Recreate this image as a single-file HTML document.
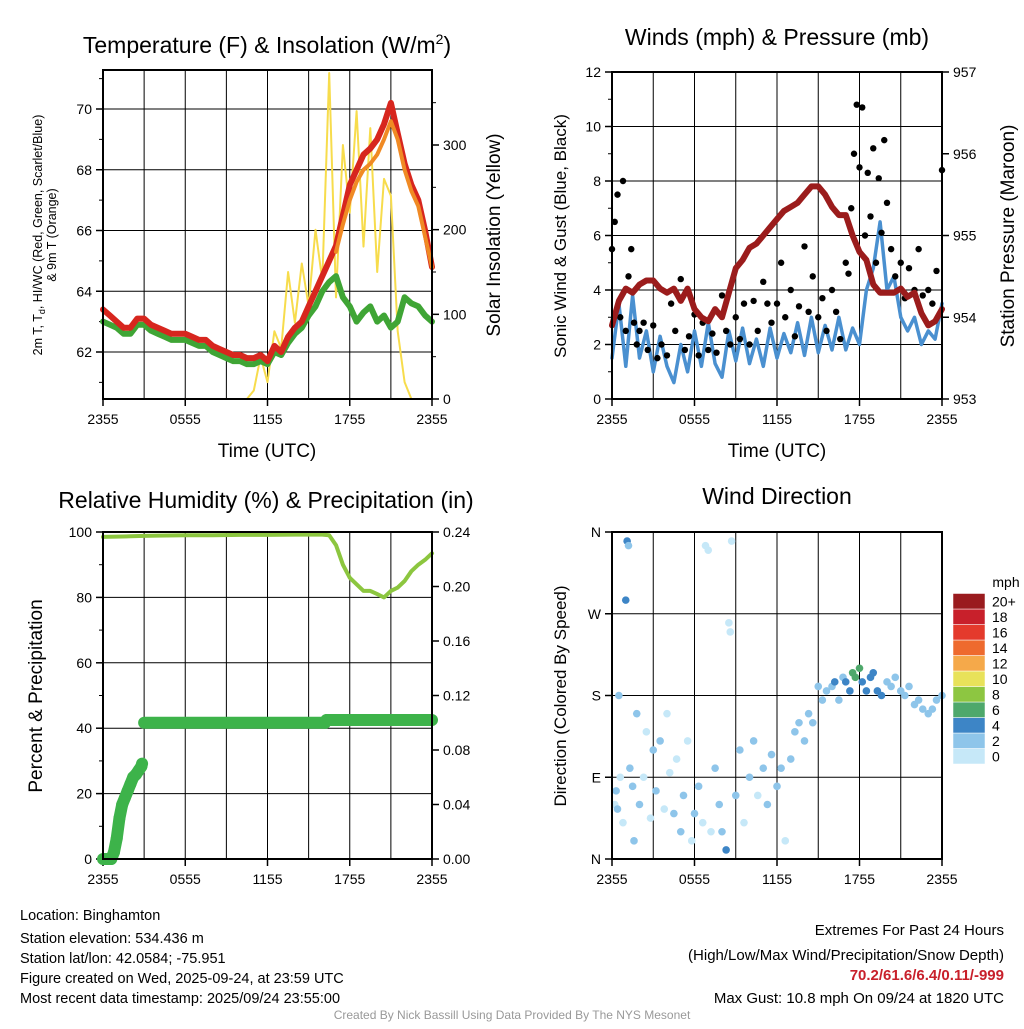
<!DOCTYPE html>
<html><head><meta charset="utf-8"><style>
body{margin:0;background:#fff;font-family:"Liberation Sans",sans-serif}
svg text{font-family:"Liberation Sans",sans-serif}
</style></head><body>
<svg id="s" width="1024" height="1024" xmlns="http://www.w3.org/2000/svg">
<g id="g"></g>
<text x="267" y="53" font-size="23" text-anchor="middle">Temperature (F) &amp; Insolation (W/m<tspan font-size="14" dy="-9">2</tspan><tspan dy="9">)</tspan></text>
<text x="777" y="45" font-size="23" text-anchor="middle">Winds (mph) &amp; Pressure (mb)</text>
<text x="266" y="508" font-size="23" text-anchor="middle">Relative Humidity (%) &amp; Precipitation (in)</text>
<text x="777" y="504" font-size="23" text-anchor="middle">Wind Direction</text>
<text x="267" y="457" font-size="19" text-anchor="middle">Time (UTC)</text>
<text x="777" y="457" font-size="19" text-anchor="middle">Time (UTC)</text>
<text transform="translate(42,235) rotate(-90)" font-size="12.5" text-anchor="middle">2m T, T<tspan font-size="9" dy="3">d</tspan><tspan dy="-3">, HI/WC (Red, Green, Scarlet/Blue)</tspan></text>
<text transform="translate(56,235) rotate(-90)" font-size="12.5" text-anchor="middle">&amp; 9m T (Orange)</text>
<text transform="translate(500,235) rotate(-90)" font-size="19" text-anchor="middle">Solar Insolation (Yellow)</text>
<text transform="translate(566,236) rotate(-90)" font-size="17" text-anchor="middle">Sonic Wind &amp; Gust (Blue, Black)</text>
<text transform="translate(1014,236) rotate(-90)" font-size="19" text-anchor="middle">Station Pressure (Maroon)</text>
<text transform="translate(42,696) rotate(-90)" font-size="19" text-anchor="middle">Percent &amp; Precipitation</text>
<text transform="translate(566,696) rotate(-90)" font-size="17" text-anchor="middle">Direction (Colored By Speed)</text>
<text x="1006" y="587" font-size="14" text-anchor="middle">mph</text>
<g font-size="14.5">
<text x="20" y="920">Location: Binghamton</text>
<text x="20" y="943">Station elevation: 534.436 m</text>
<text x="20" y="963">Station lat/lon: 42.0584; -75.951</text>
<text x="20" y="983">Figure created on Wed, 2025-09-24, at 23:59 UTC</text>
<text x="20" y="1003">Most recent data timestamp: 2025/09/24 23:55:00</text>
</g>
<g font-size="15" text-anchor="end">
<text x="1004" y="935">Extremes For Past 24 Hours</text>
<text x="1004" y="960">(High/Low/Max Wind/Precipitation/Snow Depth)</text>
<text x="1004" y="980" fill="#c8202b" font-weight="bold">70.2/61.6/6.4/0.11/-999</text>
<text x="1004" y="1003">Max Gust: 10.8 mph On 09/24 at 1820 UTC</text>
</g>
<text x="512" y="1019" font-size="12" fill="#999" text-anchor="middle">Created By Nick Bassill Using Data Provided By The NYS Mesonet</text>
</svg>
<script>
const xTicks=["2355","0555","1155","1755","2355"];
const tHours=[0,0.5,1,1.5,2,2.5,3,3.5,4,4.5,5,5.5,6,6.5,7,7.5,8,8.5,9,9.5,10,10.5,11,11.5,12,12.5,13,13.5,14,14.5,15,15.5,16,16.5,17,17.5,18,18.5,19,19.5,20,20.5,21,21.5,22,22.5,23,23.5,24];
const tempF=[63.4,63.2,63.0,62.8,62.8,63.1,63.1,62.9,62.8,62.7,62.6,62.6,62.6,62.5,62.4,62.4,62.2,62.1,62.0,61.9,61.9,61.8,61.8,61.9,61.7,62.2,62.0,62.5,62.8,63.0,63.5,64.0,64.5,65.0,65.5,66.5,67.5,68.0,68.5,68.7,69.0,69.5,70.2,69.2,68.2,67.5,67.0,66.0,64.8];
const dewF=[63.0,62.9,62.8,62.6,62.6,62.9,62.9,62.7,62.6,62.5,62.4,62.4,62.4,62.3,62.2,62.2,62.0,61.9,61.8,61.7,61.7,61.6,61.6,61.7,61.6,62.0,61.9,62.3,62.6,62.8,63.2,63.5,64.0,64.3,64.5,63.8,63.5,63.0,63.3,63.5,63.0,63.2,62.8,63.0,63.8,63.6,63.5,63.2,63.0];
const t9Hours=[17,17.5,18,18.5,19,19.5,20,20.5,21,21.5,22,22.5,23,23.5,24];
const temp9F=[65.3,66.2,67.0,67.6,68.0,68.2,68.5,69.0,69.6,69.0,68.0,67.3,66.8,65.8,64.8];
const solar=[0,0,0,0,0,0,0,0,0,0,0,0,0,0,0,0,0,0,0,0,0,0,10,50,20,80,60,150,90,160,110,200,140,385,120,300,220,340,180,320,150,260,240,80,20,0,0,0,0];
const windMph=[1.5,3.5,1.2,3.8,1.5,2.5,1.0,2.3,1.2,0.6,2.0,1.0,2.5,1.2,2.8,1.3,0.8,2.5,1.4,2.6,1.3,2.2,1.2,2.6,1.5,2.4,1.7,2.8,1.6,3.0,1.7,2.7,1.8,3.0,1.8,2.6,2.0,4.0,4.8,6.5,4.0,4.5,3.0,2.5,3.0,2.0,2.5,2.2,3.5];
const pressMb=[953.9,954.2,954.35,954.3,954.4,954.45,954.45,954.35,954.3,954.35,954.2,954.35,954.1,954.0,953.95,954.1,954.0,954.3,954.6,954.7,954.85,954.9,955.0,955.1,955.2,955.3,955.35,955.4,955.5,955.6,955.6,955.5,955.35,955.25,955.25,955.0,954.8,954.7,954.4,954.3,954.3,954.3,954.35,954.25,954.3,954.05,953.9,953.95,954.1];
const gustH=[0,0.2,0.4,0.6,0.8,1,1.2,1.4,1.6,1.8,2,2.3,2.6,3,3.3,3.6,4,4.3,4.6,5,5.3,5.6,6,6.3,6.6,7,7.3,7.6,8,8.3,8.6,9,9.3,9.6,10,10.3,10.6,11,11.3,11.6,12,12.3,12.6,13,13.3,13.6,14,14.3,14.6,15,15.3,15.6,16,16.3,16.6,17,17.2,17.4,17.6,17.8,18,18.2,18.4,18.6,18.8,19,19.2,19.4,19.6,19.8,20,20.3,20.6,21,21.3,21.6,22,22.3,22.6,23,23.3,23.6,24];
const gustMph=[5.5,6.5,7.5,3,8,2.5,4.5,5.5,2.8,2.0,2.5,2.8,1.8,2.7,1.5,2.0,1.6,3.5,2.5,4.4,1.8,2.3,3.1,1.6,2.8,1.8,2.4,1.7,3.8,2.5,2.0,3.0,2.2,3.5,2.0,3.6,2.5,4.3,3.5,2.8,3.5,5.0,3.0,4.0,2.3,3.4,5.6,3.2,4.5,3.0,3.7,2.5,4.0,3.2,2.2,5.0,4.6,7.0,9.0,10.8,8.5,10.7,6.0,8.3,6.7,9.2,5.0,8.1,6.1,9.5,7.2,5.5,4.5,5.0,3.7,4.8,4.0,5.5,3.8,4.0,3.5,4.7,8.4];
const rhHours=[0,1,2,3,4,6,8,10,12,14,16,16.5,17,17.5,18,18.5,19,19.5,20,20.5,21,21.5,22,22.5,23,23.5,24];
const rhPct=[98.5,98.6,98.7,98.8,98.9,99,99,99.1,99.1,99.2,99.2,99,96,90,86,84,82,82,81,80,82,83,85,88,90,91.5,93.5];
const precipHours=[0,0.6,0.8,1.0,1.2,1.4,1.6,1.8,2.0,2.2,2.4,2.6,2.8,2.85,3.0,16.2,16.3,24];
const precipIn=[0,0,0.005,0.015,0.03,0.04,0.045,0.05,0.055,0.06,0.062,0.065,0.068,0.07,0.1,0.1,0.102,0.102];
const dirH=[0.2,0.3,0.4,0.5,0.6,0.8,1.0,1.1,1.2,1.3,1.5,1.6,1.8,2,2.3,2.5,2.8,3,3.2,3.5,3.8,4,4.2,4.5,4.7,5,5.2,5.5,5.8,6,6.3,6.6,6.8,7,7.2,7.5,7.8,8,8.3,8.5,8.6,8.7,9,9.3,9.6,10,10.3,10.6,11,11.3,11.6,12,12.3,12.6,13,13.3,13.6,14,14.3,14.6,15,15.3,15.6,16,16.2,16.5,16.8,17,17.3,17.5,17.7,18,18.2,18.5,18.8,19,19.3,19.6,20,20.3,20.6,21,21.3,21.6,22,22.3,22.6,23,23.3,23.6,24];
const dirDeg=[60,75,55,180,90,40,285,350,345,100,80,20,160,60,90,140,45,120,75,130,55,160,95,50,110,30,70,130,20,50,80,40,345,340,30,100,60,30,10,260,250,350,70,120,40,90,130,70,100,60,115,80,100,20,110,140,150,130,160,150,190,175,185,190,195,175,200,195,185,205,200,210,195,185,200,205,185,180,195,190,200,185,180,190,170,175,165,160,165,175,180];
const dirSpd=[1.5,2,3,3,1,1,4,4,3,2,3,2,2,3,1,1,1,3,3,2,1,1,1,3,1,3,3,1,1,2,3,1,1,1,1,2,3,2,4,1,1,1,3,2,1,2,3,1,3,3,2,3,2,1,3,3,2,3,3,2,3,3,2,3,4,3,2,4,5,6,7,6,5,4,4,4,4,4,3,3,3,3,3,3,3,2,3,2,3,2,3];
const cbLabels=["0","2","4","6","8","10","12","14","16","18","20+"];
const cbColors=["#c6e8f8","#8ec5ea","#3d85c6","#4ea86b","#8dc641","#e8e25a","#f5a94a","#ee6a2e","#e43a2c","#c8202b","#9a1b1e"];

const NS="http://www.w3.org/2000/svg";
const G=document.getElementById('g');
function mk(tag,attrs,parent){const e=document.createElementNS(NS,tag);for(const k in attrs)e.setAttribute(k,attrs[k]);(parent||G).appendChild(e);return e;}
function lin(d0,d1,r0,r1){return v=>r0+(v-d0)/(d1-d0)*(r1-r0);}
function poly(xs,ys,fx,fy,attrs){return mk('polyline',Object.assign({points:xs.map((x,i)=>fx(x).toFixed(1)+','+fy(ys[i]).toFixed(1)).join(' '),fill:'none','stroke-linejoin':'round','stroke-linecap':'round'},attrs));}

function frame(x0,x1,y0,y1,fx){
  for(let h=3;h<24;h+=3){const l=mk('line',{x1:fx(h),x2:fx(h),y1:y0,y2:y1,stroke:'#000','stroke-width':1});
    
    }
  xTicks.forEach((t,i)=>{const x=fx(i*6);mk('line',{x1:x,x2:x,y1:y1,y2:y1+7,stroke:'#000','stroke-width':1.5});
    const tx=mk('text',{x:x,y:y1+25,'font-size':14,'text-anchor':'middle'});tx.textContent=t;
    
    });
}
function box(x0,x1,y0,y1){const r=mk('rect',{x:x0,y:y0,width:x1-x0,height:y1-y0,fill:'none',stroke:'#000','stroke-width':2});
  
  }
function yAxis(vals,labels,fy,x,side,x0,x1,grid){
  vals.forEach((v,i)=>{const y=fy(v);
    if(grid){mk('line',{x1:x0,x2:x1,y1:y,y2:y,stroke:'#000','stroke-width':1});}
    mk('line',{x1:x,x2:x+side*7,y1:y,y2:y,stroke:'#000','stroke-width':1.5});
    const t=mk('text',{x:x+side*11,y:y+5,'font-size':14,'text-anchor':side<0?'end':'start'});t.textContent=labels[i];
    
    });
}
function minor(vals,fy,x,side){vals.forEach(v=>mk('line',{x1:x,x2:x+side*4,y1:fy(v),y2:fy(v),stroke:'#000','stroke-width':1}));}

// Panel 1: temperature
{
const fx=lin(0,24,103,432), fy=lin(62,70,352,109), fs=lin(0,300,399,145);
frame(103,432,70,399,fx);
yAxis([62,64,66,68,70],["62","64","66","68","70"],fy,103,-1,103,432,true);
minor([61,63,65,67,69,71],fy,103,-1);
yAxis([0,100,200,300],["0","100","200","300"],fs,432,1,103,432,false);
minor([50,150,250,350],fs,432,1);
const sl=poly(tHours,solar,fx,fs,{stroke:'#f7dc4c','stroke-width':2});


const dl=poly(tHours,dewF,fx,fy,{stroke:'#3fa535','stroke-width':6});


const tl=poly(tHours,tempF,fx,fy,{stroke:'#d7261e','stroke-width':6});


const ol=poly(t9Hours,temp9F,fx,fy,{stroke:'#f08a24','stroke-width':4});


box(103,432,70,399);
}
// Panel 2: winds
{
const fx=lin(0,24,612,942), fy=lin(0,12,399,72), fp=lin(953,957,399,72);
frame(612,942,72,399,fx);
yAxis([0,2,4,6,8,10,12],["0","2","4","6","8","10","12"],fy,612,-1,612,942,true);
minor([1,3,5,7,9,11],fy,612,-1);
yAxis([953,954,955,956,957],["953","954","955","956","957"],fp,942,1,612,942,false);
const wl=poly(tHours,windMph,fx,fy,{stroke:'#4a90d0','stroke-width':3.5});


const n=Math.min(gustH.length,gustMph.length);
for(let i=0;i<n;i++){const c=mk('circle',{cx:fx(gustH[i]),cy:fy(gustMph[i]),r:3.2,fill:'#000'});
  
  }
const pl=poly(tHours,pressMb,fx,fp,{stroke:'#9b1c1c','stroke-width':6});


box(612,942,72,399);
}
// Panel 3: RH
{
const fx=lin(0,24,103,432), fy=lin(0,100,859,532), fr=lin(0,0.24,859,532);
frame(103,432,532,859,fx);
yAxis([0,20,40,60,80,100],["0","20","40","60","80","100"],fy,103,-1,103,432,true);
minor([10,30,50,70,90],fy,103,-1);
yAxis([0,0.04,0.08,0.12,0.16,0.2,0.24],["0.00","0.04","0.08","0.12","0.16","0.20","0.24"],fr,432,1,103,432,false);
const rl=poly(rhHours,rhPct,fx,fy,{stroke:'#8cc63f','stroke-width':4});


for(let i=0;i<precipHours.length-1;i++){
  if(Math.abs(precipIn[i+1]-precipIn[i])>0.02)continue;
  const s=mk('line',{x1:fx(precipHours[i]),y1:fr(precipIn[i]),x2:fx(precipHours[i+1]),y2:fr(precipIn[i+1]),stroke:'#3db34a','stroke-width':12,'stroke-linecap':'round'});
  
  
}
box(103,432,532,859);
}
// Panel 4: direction
{
const fx=lin(0,24,612,942), fy=lin(0,360,859,532);
frame(612,942,532,859,fx);
yAxis([0,90,180,270,360],["N","E","S","W","N"],fy,612,-1,612,942,true);
for(let i=0;i<dirH.length;i++){
  const k=Math.min(10,Math.floor(dirSpd[i]/2));
  const c=mk('circle',{cx:fx(dirH[i]),cy:fy(dirDeg[i]),r:3.8,fill:cbColors[k]});
  
  
}
box(612,942,532,859);
const h=15.5;
cbColors.forEach((c,i)=>{const y=764-(i+1)*h;
  const r=mk('rect',{x:953,y:y,width:32,height:h,fill:c,stroke:'#fff','stroke-width':0.5});
  
  
  const t=mk('text',{x:992,y:y+h/2+5,'font-size':14});t.textContent=cbLabels[i];
  
  });
}
</script>
</body></html>
